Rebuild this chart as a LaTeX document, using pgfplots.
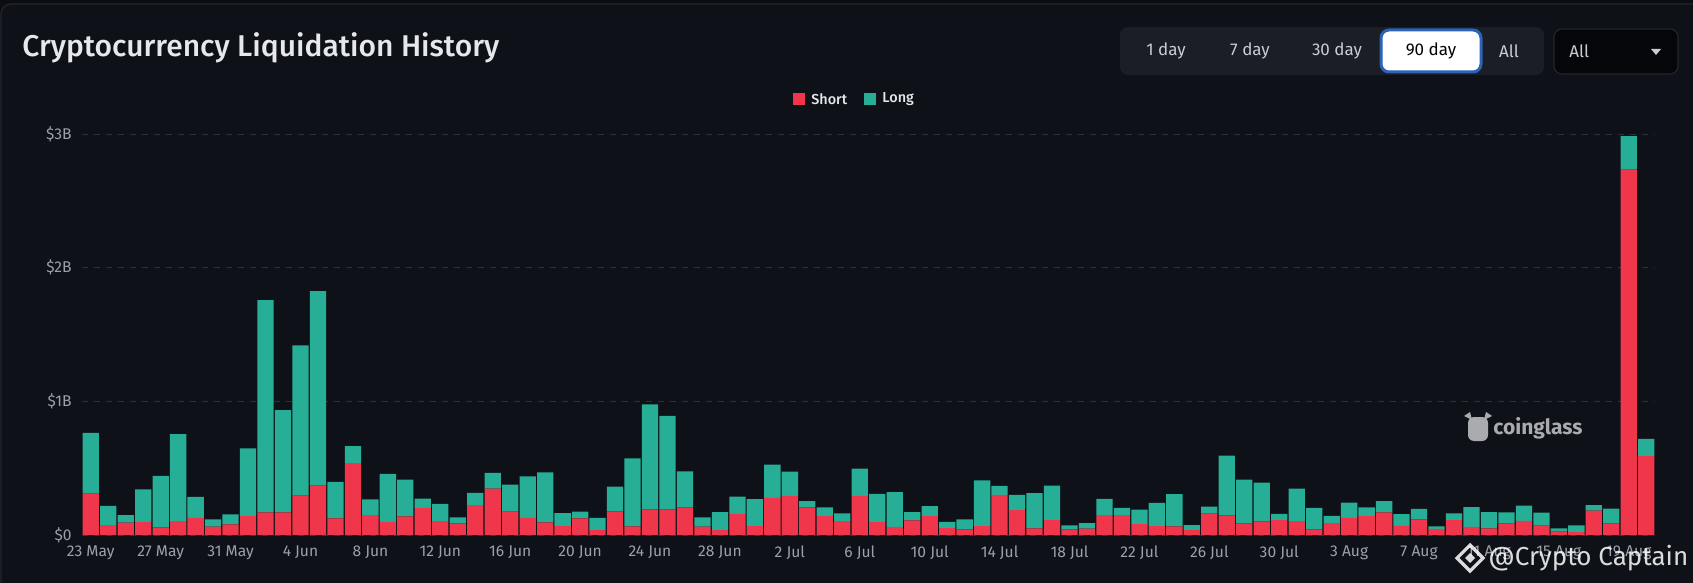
\documentclass[border=0pt]{standalone}
\usepackage{fontspec}
\setmainfont{Fira Sans}
\newfontfamily\titlefont{Fira Sans Medium}
\usepackage{pgfplots}
\pgfplotsset{compat=1.18}
\usepackage{pgfplotstable}
\definecolor{outerbg}{HTML}{0B0D12}
\definecolor{bg}{HTML}{0E1117}
\definecolor{panelborder}{HTML}{23262D}
\definecolor{shortred}{HTML}{F0364A}
\definecolor{longteal}{HTML}{26AE96}
\definecolor{titlecol}{HTML}{E6E8EB}
\definecolor{tickcol}{HTML}{9CA1A9}
\definecolor{gridcol}{HTML}{2C3039}
\definecolor{btngroup}{HTML}{1B1E25}
\definecolor{btntext}{HTML}{C9CDD3}
\definecolor{selblue}{HTML}{2A63B8}
\definecolor{dropbg}{HTML}{05060A}
\definecolor{markgray}{HTML}{A9ABAF}

\pgfplotstableread{
x short long
0 0.310 0.454
1 0.074 0.144
2 0.092 0.057
3 0.099 0.243
4 0.057 0.385
5 0.104 0.650
6 0.129 0.156
7 0.062 0.055
8 0.079 0.075
9 0.144 0.504
10 0.169 1.588
11 0.169 0.766
12 0.295 1.124
13 0.370 1.454
14 0.124 0.273
15 0.538 0.127
16 0.149 0.117
17 0.099 0.358
18 0.139 0.275
19 0.203 0.070
20 0.104 0.129
21 0.087 0.044
22 0.223 0.092
23 0.347 0.117
24 0.174 0.203
25 0.129 0.310
26 0.094 0.375
27 0.067 0.097
28 0.124 0.050
29 0.037 0.092
30 0.176 0.186
31 0.065 0.508
32 0.191 0.787
33 0.191 0.700
34 0.206 0.270
35 0.062 0.069
36 0.037 0.134
37 0.159 0.129
38 0.067 0.201
39 0.278 0.248
40 0.293 0.181
41 0.206 0.048
42 0.144 0.062
43 0.104 0.057
44 0.293 0.203
45 0.097 0.211
46 0.060 0.260
47 0.109 0.062
48 0.144 0.072
49 0.052 0.047
50 0.042 0.075
51 0.067 0.342
52 0.300 0.067
53 0.186 0.114
54 0.050 0.263
55 0.112 0.258
56 0.042 0.030
57 0.047 0.042
58 0.149 0.121
59 0.149 0.054
60 0.082 0.107
61 0.067 0.174
62 0.065 0.240
63 0.037 0.037
64 0.160 0.053
65 0.146 0.447
66 0.087 0.327
67 0.102 0.290
68 0.112 0.047
69 0.104 0.243
70 0.042 0.161
71 0.089 0.055
72 0.129 0.114
73 0.141 0.065
74 0.169 0.084
75 0.069 0.087
76 0.117 0.079
77 0.045 0.020
78 0.112 0.050
79 0.060 0.149
80 0.050 0.122
81 0.087 0.083
82 0.106 0.113
83 0.070 0.098
84 0.025 0.025
85 0.021 0.051
86 0.183 0.040
87 0.087 0.110
88 2.734 0.251
89 0.590 0.130
}\liqdata

\begin{document}
\begin{tikzpicture}
\begin{scope}[x=0.5pt,y=-0.5pt]
\useasboundingbox (0,0) rectangle (1693,583);
\fill[outerbg] (0,0) rectangle (1693,583);
\filldraw[fill=bg, draw=panelborder, line width=0.6pt, rounded corners=5pt] (1,4) rectangle (1710,600);
% title
\node[anchor=west, text=titlecol, inner sep=0pt, font=\fontsize{15}{18}\titlefont] at (22,48) {Cryptocurrency Liquidation History};
% button group
\fill[btngroup, rounded corners=4pt] (1120,27) rectangle (1544,75);
\filldraw[fill=white, draw=selblue, line width=1.5pt, rounded corners=4pt] (1381,30) rectangle (1481,72);
\begin{scope}[every node/.style={font=\fontsize{8.5}{10}\selectfont, inner sep=0pt}]
\node[text=btntext] at (1166,51) {1 day};
\node[text=btntext] at (1250,51) {7 day};
\node[text=btntext] at (1337,51) {30 day};
\node[text=black] at (1431,51) {90 day};
\node[text=btntext] at (1509,51) {All};
\end{scope}
% dropdown
\filldraw[fill=dropbg, draw=panelborder, line width=0.6pt, rounded corners=4pt] (1554,29) rectangle (1678,74);
\node[anchor=west, text=btntext, inner sep=0pt, font=\fontsize{8.5}{10}\selectfont] at (1569,51) {All};
\fill[btntext] (1651,49) -- (1661,49) -- (1656,55) -- cycle;
% legend
\fill[shortred] (793,93) rectangle (805,105);
\node[anchor=west, text=titlecol, inner sep=0pt, font=\fontsize{7.2}{8}\titlefont] at (811,99) {Short};
\fill[longteal] (864,93) rectangle (876,105);
\node[anchor=west, text=titlecol, inner sep=0pt, font=\fontsize{7.2}{8}\titlefont] at (882,99) {Long};
\end{scope}

\begin{axis}[
  at={(41pt,-267.5pt)}, anchor=south west,
  scale only axis, width=786.5pt, height=200.5pt,
  ybar stacked, bar width=8.15pt,
  xmin=-0.5, xmax=89.5, ymin=0, ymax=3,
  enlargelimits=false,
  axis line style={draw=none},
  major tick length=0pt,
  xtick={0,4,...,88},
  xticklabels={23 May,27 May,31 May,4 Jun,8 Jun,12 Jun,16 Jun,20 Jun,24 Jun,28 Jun,2 Jul,6 Jul,10 Jul,14 Jul,18 Jul,22 Jul,26 Jul,30 Jul,3 Aug,7 Aug,11 Aug,15 Aug,19 Aug},
  ytick={0,1,2,3},
  yticklabels={\$0,\$1B,\$2B,\$3B},
  ymajorgrids, grid style={gridcol, dashed, line width=0.5pt},
  xticklabel style={text=tickcol, font=\fontsize{7.8}{9}\selectfont, inner sep=0pt, anchor=north, yshift=-5pt},
  yticklabel style={text=tickcol, font=\fontsize{7.8}{9}\selectfont, inner sep=0pt, anchor=east, xshift=-5pt},
]
\addplot[fill=shortred, draw=none] table[x=x, y=short] {\liqdata};
\addplot[fill=longteal, draw=none] table[x=x, y=long] {\liqdata};
\end{axis}

\begin{scope}[x=0.5pt,y=-0.5pt]
% coinglass mark
\fill[markgray, rounded corners=3pt] (1468,417) rectangle (1488,441);
\fill[markgray] (1464,416) -- (1470,412) -- (1472,420) -- cycle;
\fill[markgray] (1492,416) -- (1486,412) -- (1484,420) -- cycle;
\node[anchor=west, text=markgray, inner sep=0pt, font=\fontsize{10.5}{12}\selectfont\bfseries] at (1493,428) {coinglass};
% watermark
\begin{scope}[opacity=0.85]
\draw[white, line width=1.6pt] (1470,545) -- (1483,558) -- (1470,571) -- (1457,558) -- cycle;
\fill[white] (1470,553) -- (1475,558) -- (1470,563) -- (1465,558) -- cycle;
\node[anchor=west, text=white, inner sep=0pt, font=\fontsize{13}{15}\selectfont] at (1488,558) {@Crypto Captain};
\end{scope}
\end{scope}
\end{tikzpicture}
\end{document}
